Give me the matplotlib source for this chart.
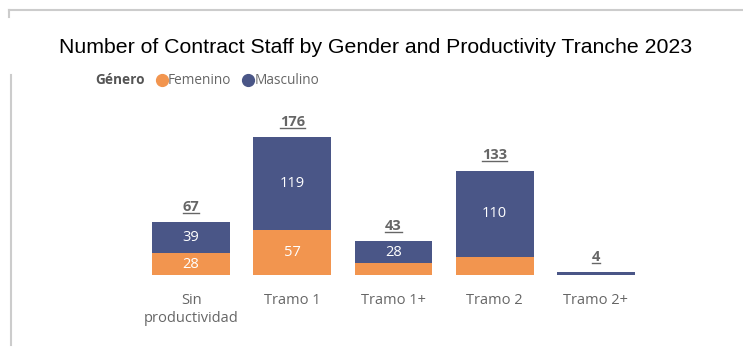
import matplotlib.pyplot as plt
from matplotlib.lines import Line2D

# Staff counts by productivity tranche
tramos = ["Sin\nproductividad", "Tramo 1", "Tramo 1+", "Tramo 2", "Tramo 2+"]
femenino = [28, 57, 15, 23, 0]
masculino = [39, 119, 28, 110, 4]
totales = [f + m for f, m in zip(femenino, masculino)]

naranja = "#F2954F"
azul = "#4A5687"
gris = "#666666"
font_ui = ["Open Sans", "DejaVu Sans"]

fig = plt.figure(figsize=(7.43, 3.51), dpi=100)
ax = fig.add_axes([140.5 / 743, 76 / 351, 506 / 743, 149 / 351])

x = range(len(tramos))
ax.bar(x, femenino, width=0.77, color=naranja)
ax.bar(x, masculino, width=0.77, bottom=femenino, color=azul)

ax.set_xlim(-0.5, 4.5)
ax.set_ylim(0, 190)

# values inside the segments (only where there is room)
for i in x:
    if femenino[i] >= 25:
        ax.text(i, femenino[i] / 2, str(femenino[i]), ha="center", va="center",
                color="white", fontsize=10.5, family=font_ui)
    if masculino[i] >= 25:
        ax.text(i, femenino[i] + masculino[i] / 2, str(masculino[i]), ha="center",
                va="center", color="white", fontsize=10.5, family=font_ui)

# bold underlined totals above each bar
tot_txt = []
for i in x:
    t = ax.annotate(str(totales[i]), (i, totales[i]), xytext=(0, 6),
                    textcoords="offset points", ha="center", va="bottom",
                    fontsize=10.5, fontweight="bold", color=gris, family=font_ui,
                    annotation_clip=False)
    tot_txt.append(t)

ax.set_xticks(list(x))
ax.set_xticklabels(tramos, fontsize=10.5, color=gris, family=font_ui, linespacing=1.25)
ax.tick_params(axis="x", length=0, pad=13)
ax.set_yticks([])
for s in ax.spines.values():
    s.set_visible(False)

fig.text(0.505, 0.866, "Number of Contract Staff by Gender and Productivity Tranche 2023",
         ha="center", va="center", fontsize=15.3, family="Liberation Sans", color="black")

# legend row
ly = 1 - 80 / 351
fig.text(95 / 743, ly, "Género", ha="left", va="center", fontsize=9.8,
         fontweight="bold", color="#555555", family=font_ui)
fig.add_artist(Line2D([162 / 743], [ly], marker="o", markersize=8.5,
                      color=naranja, transform=fig.transFigure))
fig.text(168 / 743, ly, "Femenino", ha="left", va="center", fontsize=9.8,
         color=gris, family=font_ui)
fig.add_artist(Line2D([248 / 743], [ly], marker="o", markersize=8.5,
                      color=azul, transform=fig.transFigure))
fig.text(255 / 743, ly, "Masculino", ha="left", va="center", fontsize=9.8,
         color=gris, family=font_ui)

# panel border lines
fig.add_artist(Line2D([9 / 743, 1], [1 - 10 / 351, 1 - 10 / 351], color="#cccccc",
                      lw=1.5, transform=fig.transFigure))
fig.add_artist(Line2D([9 / 743, 9 / 743], [1 - 10 / 351, 1 - 17 / 351], color="#cccccc",
                      lw=1.5, transform=fig.transFigure))
fig.add_artist(Line2D([11 / 743, 11 / 743], [1 - 75 / 351, 1 - 345 / 351], color="#cccccc",
                      lw=1.5, transform=fig.transFigure))

# underline the totals
fig.canvas.draw()
r = fig.canvas.get_renderer()
for t in tot_txt:
    bb = t.get_window_extent(r)
    y = bb.y0 + 1
    fig.add_artist(Line2D([bb.x0 / fig.bbox.width, bb.x1 / fig.bbox.width],
                          [y / fig.bbox.height, y / fig.bbox.height],
                          color=gris, lw=1, transform=fig.transFigure))

fig.savefig("out.png", dpi=100)
